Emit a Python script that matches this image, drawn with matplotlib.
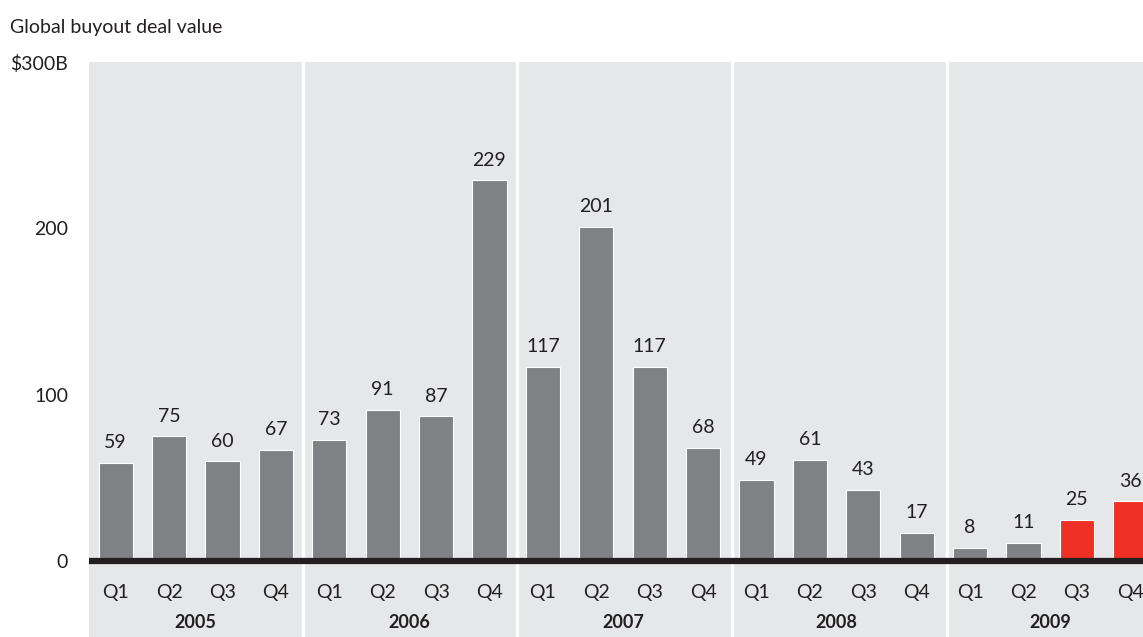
import numpy as np
import matplotlib.pyplot as plt

years = ["2005", "2006", "2007", "2008", "2009"]
quarters = ["Q1", "Q2", "Q3", "Q4"]
values = [59, 75, 60, 67,
          73, 91, 87, 229,
          117, 201, 117, 68,
          49, 61, 43, 17,
          8, 11, 25, 36]
highlight = [False] * 18 + [True, True]

plt.rcParams['font.family'] = ['Lato', 'DejaVu Sans']

fig = plt.figure(figsize=(11.43, 6.37), dpi=100)
ax = fig.add_axes([89 / 1143, 0, 1 - 89 / 1143, 575 / 637])

n = len(values)
x = np.arange(n) + 0.5
colors = ["#EE3124" if h else "#808184" for h in highlight]

ax.set_facecolor("#E6E7E8")
ax.bar(x, values, width=0.64, color=colors, edgecolor="white", linewidth=0.8, zorder=2)

# year separators (slightly drifting right in the original)
for b in range(4, n, 4):
    ax.axvline(b + (b - 4) * 0.005, color="white", lw=2.5, zorder=1)

# baseline
ax.axhline(0, color="#231F20", lw=4.5, zorder=3)

for xi, v in zip(x, values):
    ax.text(xi, v + 7, str(v), ha="center", va="bottom", fontsize=14, color="#231F20")

for i, xi in enumerate(x):
    ax.text(xi, -18.5, quarters[i % 4], ha="center", va="center", fontsize=14, color="#231F20")

for j, yr in enumerate(years):
    ax.text(j * 4 + 2, -36.5, yr, ha="center", va="center", fontsize=13,
            fontweight="bold", color="#231F20")

ax.set_xlim(0, (1143 - 89) / 53.4)
ax.set_ylim(-45.5, 298.8)
ax.set_xticks([])
ax.set_yticks([0, 100, 200, 300])
ax.set_yticklabels(["0", "100", "200", "$300B"], fontsize=14, color="#231F20")
ax.tick_params(axis="y", length=0, pad=15)
for s in ax.spines.values():
    s.set_visible(False)

fig.text(10 / 1143, 1 - 27 / 637, "Global buyout deal value", ha="left", va="center",
         fontsize=14, color="#231F20")

fig.savefig("out.png", dpi=100)
